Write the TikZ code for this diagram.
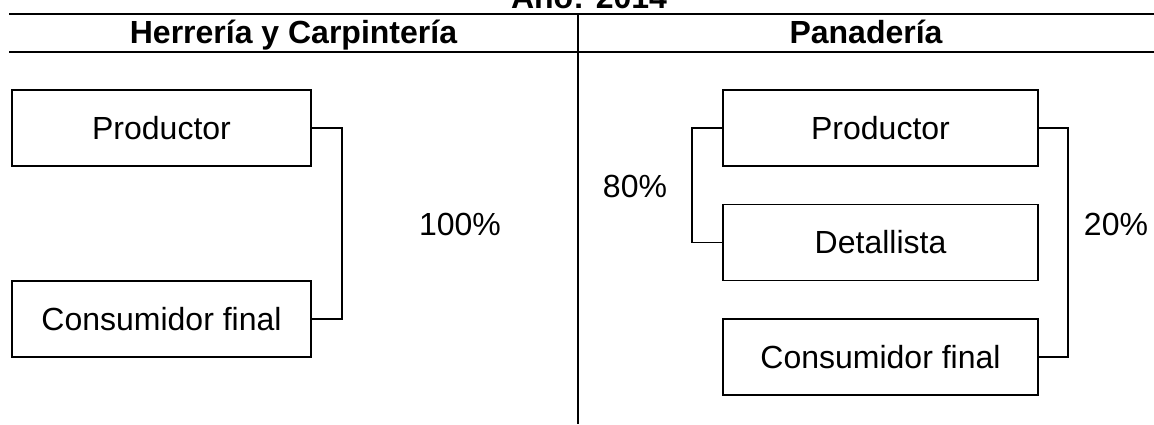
\documentclass[tikz,border=0pt]{standalone}
\usepackage{fontspec}
\setmainfont{Liberation Sans}
\begin{document}
\begin{tikzpicture}[x=0.5pt,y=-0.5pt,
  rule/.style={line width=1pt},
  box/.style={draw, line width=0.9pt, minimum height=38pt, inner sep=0pt, font=\fontsize{16}{19}\selectfont},
  lbox/.style={box, minimum width=149.5pt},
  rbox/.style={box, minimum width=157.5pt},
  head/.style={anchor=base, inner sep=0pt, font=\fontsize{16}{19}\selectfont\bfseries},
  pct/.style={inner sep=0pt, font=\fontsize{16}{19}\selectfont},
  conn/.style={line width=0.9pt}]
\useasboundingbox (0,0) rectangle (1154,424);
% title and table rules
\node[head] (title) at (589,8) {Año: 2014};
\draw[rule] (9,14) -- (1154,14);
\draw[rule] (9,52) -- (1154,52);
\draw[rule] (578,14) -- (578,424);
\node[head] (hh) at (293.5,43) {Herrería y Carpintería};
\node[head] (hp) at (866,43) {Panadería};
% left side
\node[lbox] (lp) at (161.5,128) {Productor};
\node[lbox] (lc) at (161.5,319) {Consumidor final};
\draw[conn] (lp.east) -- ++(30,0) |- (lc.east);
\node[pct] (l100) at (460,224) {100\%};
% right side
\node[rbox] (rp) at (880.5,128) {Productor};
\node[rbox] (rd) at (880.5,242.5) {Detallista};
\node[rbox] (rc) at (880.5,357) {Consumidor final};
\draw[conn] (rp.west) -- ++(-30,0) |- (rd.west);
\draw[conn] (rp.east) -- ++(29,0) |- (rc.east);
\node[pct] (r80) at (635,186) {80\%};
\node[pct] (r20) at (1116,224) {20\%};
\end{tikzpicture}
\end{document}
